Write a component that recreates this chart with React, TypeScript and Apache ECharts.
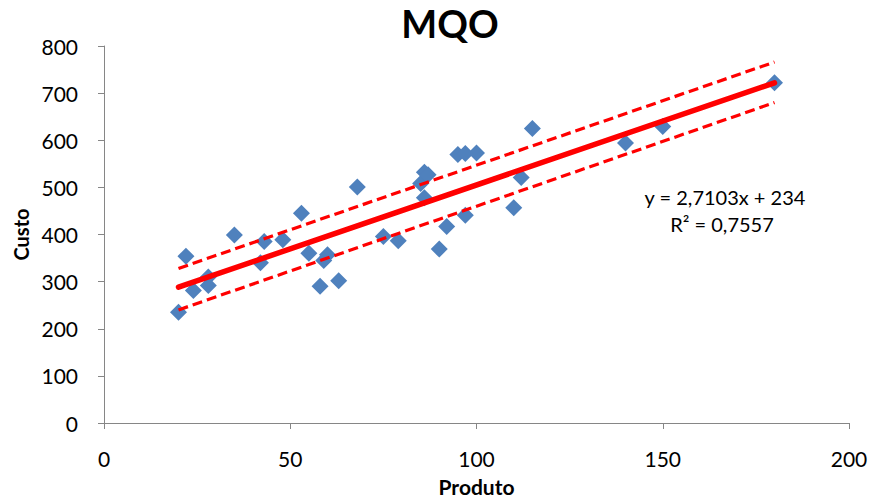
import React, { useEffect, useRef } from "react";
import * as echarts from "echarts";

const produto = [20, 22, 24, 28, 28, 35, 42, 43, 48, 53, 55, 60, 59, 58, 63, 68, 75, 79, 85, 86, 87, 86, 90, 92, 95, 97, 97, 100, 110, 112, 115, 140, 150, 180];
const custo = [235, 354, 281, 310, 292, 399, 340, 385, 389, 445, 360, 357, 345, 290, 302, 501, 396, 387, 508, 532, 527, 478, 369, 417, 570, 572, 441, 573, 457, 521, 625, 594, 629, 722];

const fitLine = [[20, 288.2], [180, 721.9]];
const upperBand = [[20, 328], [180, 766]];
const lowerBand = [[20, 240], [180, 680]];

const xTicks = [0, 50, 100, 150, 200];
const yTicks = [0, 100, 200, 300, 400, 500, 600, 700, 800];

const FONT = "Lato, 'Open Sans', sans-serif";

export default function App() {
  const ref = useRef<HTMLDivElement>(null);
  useEffect(() => {
    if (!ref.current) return;
    const chart = echarts.init(ref.current, null, { renderer: "svg" });
    const points = produto.map((x, i) => [x, custo[i]]);
    const axisLine = { show: true, lineStyle: { color: "#868686", width: 1 } };
    chart.setOption({
      animation: false,
      backgroundColor: "#ffffff",
      title: {
        text: "MQO",
        left: 445,
        top: -1,
        textAlign: "center",
        textStyle: { fontFamily: FONT, fontSize: 38, fontWeight: "bold", color: "#000" },
      },
      grid: { left: 104, right: 25, top: 46, bottom: 76 },
      xAxis: {
        type: "value",
        min: xTicks[0],
        max: xTicks[xTicks.length - 1],
        interval: 50,
        name: "Produto",
        nameLocation: "middle",
        nameGap: 53,
        nameTextStyle: { fontFamily: FONT, fontSize: 21, fontWeight: "bold", color: "#000" },
        axisLine,
        axisTick: { show: true, length: 6, lineStyle: { color: "#868686" } },
        axisLabel: { fontFamily: FONT, fontSize: 21, color: "#000", margin: 25 },
        splitLine: { show: false },
      },
      yAxis: {
        type: "value",
        min: yTicks[0],
        max: yTicks[yTicks.length - 1],
        interval: 100,
        name: "Custo",
        nameLocation: "middle",
        nameGap: 72,
        nameTextStyle: { fontFamily: FONT, fontSize: 20, fontWeight: "bold", color: "#000" },
        axisLine,
        axisTick: { show: true, length: 6, lineStyle: { color: "#868686" } },
        axisLabel: { fontFamily: FONT, fontSize: 21, color: "#000", margin: 26 },
        splitLine: { show: false },
      },
      series: [
        {
          type: "scatter",
          data: points,
          symbol: "diamond",
          symbolSize: 17,
          itemStyle: { color: "#4F81BD", opacity: 1 },
          z: 2,
        },
        {
          type: "line",
          data: fitLine,
          symbol: "none",
          lineStyle: { color: "#FF0000", width: 5.5, cap: "round" },
          z: 3,
        },
        {
          type: "line",
          data: upperBand,
          symbol: "none",
          lineStyle: { color: "#FF0000", width: 3.2, type: [10, 5] },
          z: 3,
        },
        {
          type: "line",
          data: lowerBand,
          symbol: "none",
          lineStyle: { color: "#FF0000", width: 3.2, type: [10, 5] },
          z: 3,
        },
      ],
      graphic: [
        {
          type: "text",
          x: 725,
          y: 197,
          style: { text: "y = 2,7103x + 234", font: `20px ${FONT}`, fill: "#000", align: "center", verticalAlign: "middle" },
        },
        {
          type: "text",
          x: 722,
          y: 224,
          style: { text: "R² = 0,7557", font: `20px ${FONT}`, fill: "#000", align: "center", verticalAlign: "middle" },
        },
      ],
    });
    return () => chart.dispose();
  }, []);
  return (
    <div
      ref={ref}
      style={{ position: "fixed", left: 0, top: 0, width: 874, height: 502, background: "#fff" }}
    />
  );
}
